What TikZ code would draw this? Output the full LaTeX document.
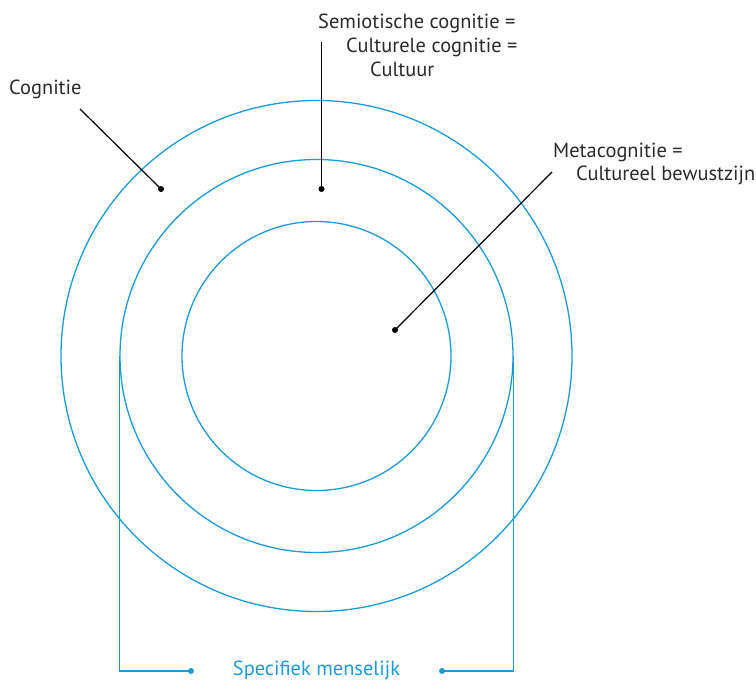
\documentclass[tikz,border=0pt]{standalone}
\usepackage{fontspec}
\setmainfont{PT Sans}
\definecolor{ringblue}{HTML}{1A9BD7}
\definecolor{labelgray}{HTML}{2B2B2B}
\begin{document}
\begin{tikzpicture}[x=1bp,y=-1bp,
  ring/.style={draw=ringblue,line width=1.3bp},
  leader/.style={draw=black,line width=1.2bp},
  bracketline/.style={draw=ringblue,line width=1.3bp},
  lbl/.style={font=\fontsize{20.5}{22}\selectfont,text=labelgray,inner sep=0pt,anchor=base west},
  blbl/.style={font=\fontsize{20.5}{22}\selectfont,text=ringblue,inner sep=0pt,anchor=base},
  pin/.style={circle,fill=black,inner sep=0pt,minimum size=6bp},
  bpin/.style={circle,fill=ringblue,inner sep=0pt,minimum size=6bp}]
\useasboundingbox (0,0) rectangle (756,681);

% concentric rings
\coordinate (c) at (316.5,356);
\draw[ring] (c) circle[radius=255.5bp];
\draw[ring] (c) circle[radius=196.5bp];
\draw[ring] (c) circle[radius=134.5bp];

% labels
\node[lbl] (cog) at (9,95) {Cognitie};
\node[lbl] (sem1) at (318,29) {Semiotische cognitie =};
\node[lbl] (sem2) at (346,53) {Culturele cognitie =};
\node[lbl] (sem3) at (370,77) {Cultuur};
\node[lbl] (meta1) at (553,157) {Metacognitie =};
\node[lbl] (meta2) at (576,180) {Cultureel bewustzijn};

% leader lines with end dots
\coordinate (cogA) at (80,109);
\node[pin] (cogP) at (161,189) {};
\draw[leader] (cogA) -- (cogP.center);

\coordinate (semA) at (321.5,42);
\node[pin] (semP) at (321.5,189) {};
\draw[leader] (semA) -- (semP.center);

\coordinate (metaA) at (552,172);
\node[pin] (metaP) at (395,330) {};
\draw[leader] (metaA) -- (metaP.center);

% bracket below the rings
\coordinate (bl) at (119.5,356);
\coordinate (br) at (513.5,356);
\node[bpin] (blP) at (191,671) {};
\node[bpin] (brP) at (442,671) {};
\draw[bracketline] (bl) |- (blP.center);
\draw[bracketline] (br) |- (brP.center);
\node[blbl] (spec) at (316.5,675.5) {Specifiek menselijk};
\end{tikzpicture}
\end{document}
